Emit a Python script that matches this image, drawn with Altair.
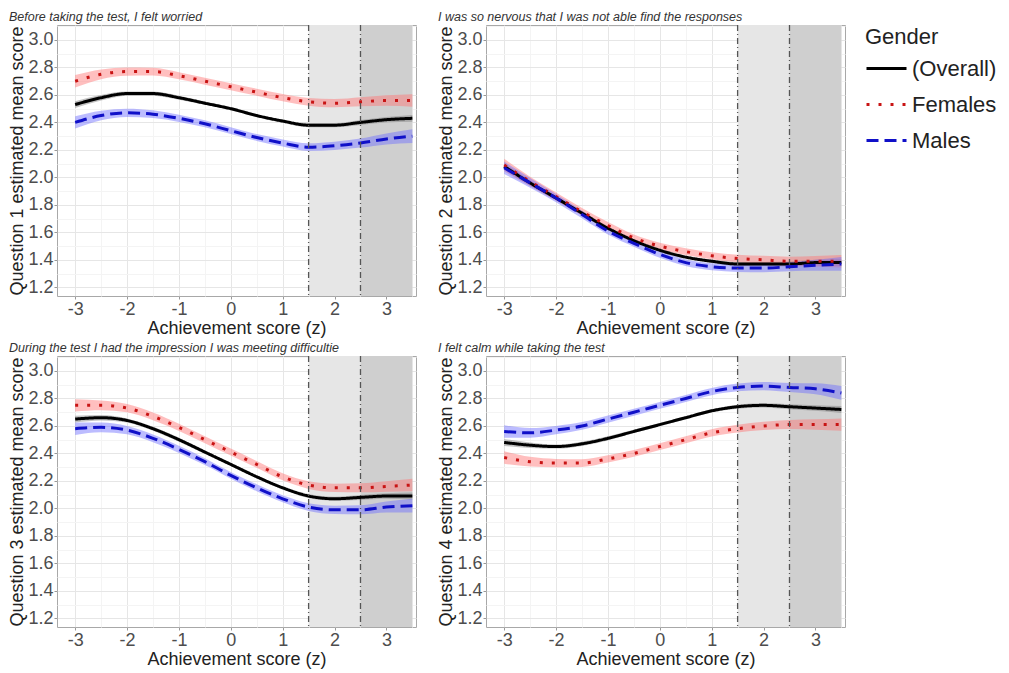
import altair as alt
import pandas as pd

# ---------------- data ----------------
X = [-3.0, -2.5, -2.0, -1.5, -1.0, -0.5, 0.0, 0.5, 1.0, 1.5, 2.0, 2.5, 3.0, 3.5]
GENDERS = ["(Overall)", "Females", "Males"]

PANEL_TITLES = [
    "Before taking the test, I felt worried",
    "I was so nervous that I was not able find the responses",
    "During the test I had the impression I was meeting difficultie",
    "I felt calm while taking the test",
]
Y_TITLES = [
    "Question 1 estimated mean score",
    "Question 2 estimated mean score",
    "Question 3 estimated mean score",
    "Question 4 estimated mean score",
]

# Question 1
Q1_OVERALL = [2.53, 2.58, 2.61, 2.61, 2.58, 2.54, 2.50, 2.45, 2.41, 2.38, 2.38, 2.40, 2.42, 2.43]
Q1_FEMALES = [2.70, 2.75, 2.77, 2.77, 2.74, 2.70, 2.66, 2.62, 2.58, 2.55, 2.54, 2.55, 2.56, 2.56]
Q1_MALES = [2.40, 2.45, 2.47, 2.46, 2.43, 2.39, 2.34, 2.29, 2.25, 2.22, 2.23, 2.25, 2.28, 2.30]
# Question 2
Q2_OVERALL = [2.08, 1.96, 1.85, 1.74, 1.63, 1.54, 1.47, 1.42, 1.39, 1.37, 1.37, 1.37, 1.38, 1.38]
Q2_FEMALES = [2.09, 1.97, 1.86, 1.75, 1.65, 1.56, 1.50, 1.46, 1.43, 1.41, 1.40, 1.39, 1.39, 1.39]
Q2_MALES = [2.07, 1.96, 1.85, 1.73, 1.61, 1.52, 1.44, 1.38, 1.35, 1.34, 1.34, 1.35, 1.36, 1.37]
# Question 3
Q3_OVERALL = [2.65, 2.66, 2.64, 2.58, 2.50, 2.41, 2.32, 2.23, 2.15, 2.09, 2.07, 2.08, 2.09, 2.09]
Q3_FEMALES = [2.75, 2.75, 2.73, 2.67, 2.59, 2.50, 2.41, 2.32, 2.23, 2.17, 2.15, 2.15, 2.16, 2.17]
Q3_MALES = [2.58, 2.59, 2.57, 2.51, 2.43, 2.34, 2.24, 2.15, 2.07, 2.01, 1.99, 1.99, 2.01, 2.02]
# Question 4
Q4_OVERALL = [2.48, 2.46, 2.45, 2.47, 2.51, 2.56, 2.61, 2.66, 2.71, 2.74, 2.75, 2.74, 2.73, 2.72]
Q4_FEMALES = [2.37, 2.34, 2.33, 2.33, 2.36, 2.40, 2.45, 2.50, 2.55, 2.58, 2.60, 2.61, 2.61, 2.61]
Q4_MALES = [2.56, 2.55, 2.57, 2.60, 2.65, 2.70, 2.75, 2.80, 2.85, 2.88, 2.89, 2.88, 2.87, 2.84]

# confidence band half-widths
HW_OVERALL = [0.025, 0.02, 0.015, 0.015, 0.015, 0.012, 0.012, 0.012, 0.012, 0.015, 0.015, 0.018, 0.02, 0.025]
HW_FEMALES = [0.045, 0.035, 0.03, 0.028, 0.026, 0.025, 0.025, 0.025, 0.026, 0.028, 0.03, 0.033, 0.038, 0.045]
HW_MALES = [0.045, 0.035, 0.03, 0.028, 0.026, 0.025, 0.025, 0.025, 0.026, 0.028, 0.03, 0.033, 0.04, 0.05]

SERIES = [
    (Q1_OVERALL, Q1_FEMALES, Q1_MALES),
    (Q2_OVERALL, Q2_FEMALES, Q2_MALES),
    (Q3_OVERALL, Q3_FEMALES, Q3_MALES),
    (Q4_OVERALL, Q4_FEMALES, Q4_MALES),
]
HALF_WIDTHS = [HW_OVERALL, HW_FEMALES, HW_MALES]

REGION_START = [1.5, 2.5]
REGION_END = [2.5, 3.5]
REGION_NAME = ["high", "top"]
CUTS = [1.5, 2.5]

X_MAJOR = [-3, -2, -1, 0, 1, 2, 3]
X_MINOR = [-2.5, -1.5, -0.5, 0.5, 1.5, 2.5, 3.5]
Y_MAJOR = [1.2, 1.4, 1.6, 1.8, 2.0, 2.2, 2.4, 2.6, 2.8, 3.0]
Y_MINOR = [1.3, 1.5, 1.7, 1.9, 2.1, 2.3, 2.5, 2.7, 2.9, 3.1]

# ---------------- styling ----------------
W, H = 359, 271
FONT = "Liberation Sans"
LINE_COLORS = ["#000000", "#c81414", "#1010c8"]
BAND_COLORS = ["#7a7a7a", "#ff7070", "#6b6bff"]
DASHES = [[1, 0], [3, 9], [12, 6]]

regions = pd.DataFrame({"start": REGION_START, "end": REGION_END, "zone": REGION_NAME})
cuts = pd.DataFrame({"x": CUTS})

major_x_test = "abs(datum.value - round(datum.value)) < 0.01"
major_y_test = "round(datum.value * 10) % 2 == 0"


def panel(i, show_legend=False):
    rows = []
    for g, vals, hw in zip(GENDERS, SERIES[i], HALF_WIDTHS):
        for xv, yv, h in zip(X, vals, hw):
            rows.append({"gender": g, "x": xv, "y": yv, "lo": yv - h, "hi": yv + h})
    df = pd.DataFrame(rows)

    xscale = alt.Scale(domain=[-3.35, 3.57], nice=False, zero=False)
    yscale = alt.Scale(domain=[1.137, 3.109], nice=False, zero=False)
    xaxis = alt.Axis(
        title="Achievement score (z)",
        values=sorted(X_MAJOR + X_MINOR),
        labelExpr=f"({major_x_test}) ? '' + datum.value : ''",
        gridColor={"condition": {"test": major_x_test, "value": "#e6e6e6"}, "value": "#f4f4f4"},
        tickColor={"condition": {"test": major_x_test, "value": "#999999"}, "value": "transparent"},
    )
    yaxis = alt.Axis(
        title=Y_TITLES[i],
        values=sorted(Y_MAJOR + Y_MINOR),
        labelExpr=f"({major_y_test}) ? format(datum.value, '.1f') : ''",
        gridColor={"condition": {"test": major_y_test, "value": "#e6e6e6"}, "value": "#f4f4f4"},
        tickColor={"condition": {"test": major_y_test, "value": "#999999"}, "value": "transparent"},
    )
    legend = (alt.Legend(title="Gender", orient="none", legendX=W + 20, legendY=2)
              if show_legend else None)

    shade = alt.Chart(regions).mark_rect().encode(
        x=alt.X("start:Q", scale=xscale, axis=xaxis),
        x2="end:Q",
        y=alt.value(0),
        y2=alt.value(H),
        color=alt.Color("zone:N", scale=alt.Scale(domain=REGION_NAME, range=["#e6e6e6", "#cfcfcf"]), legend=None),
    )
    band = alt.Chart(df).mark_area(opacity=0.45, interpolate="monotone").encode(
        x=alt.X("x:Q", scale=xscale, axis=xaxis),
        y=alt.Y("lo:Q", scale=yscale, axis=yaxis),
        y2="hi:Q",
        fill=alt.Fill("gender:N", scale=alt.Scale(domain=GENDERS, range=BAND_COLORS), legend=None),
        detail="gender:N",
    )
    line = alt.Chart(df).mark_line(strokeWidth=3, interpolate="monotone").encode(
        x=alt.X("x:Q", scale=xscale, axis=xaxis),
        y=alt.Y("y:Q", scale=yscale, axis=yaxis),
        stroke=alt.Stroke("gender:N", scale=alt.Scale(domain=GENDERS, range=LINE_COLORS), legend=legend),
        strokeDash=alt.StrokeDash("gender:N", scale=alt.Scale(domain=GENDERS, range=DASHES), legend=legend),
    )
    rules = alt.Chart(cuts).mark_rule(color="#555555", strokeWidth=1.3, strokeDash=[6, 3, 1, 3]).encode(
        x=alt.X("x:Q", scale=xscale, axis=xaxis),
    )
    return alt.layer(shade, band, line, rules).properties(
        width=W, height=H,
        title=alt.TitleParams(PANEL_TITLES[i], anchor="start", fontSize=12.5, fontStyle="italic",
                              fontWeight="normal", color="#333333", offset=1, font=FONT),
    )


row1 = alt.hconcat(panel(0), panel(1, show_legend=True), spacing=18).resolve_legend(
    stroke="independent", strokeDash="independent")
row2 = alt.hconcat(panel(2), panel(3), spacing=18).resolve_legend(
    stroke="independent", strokeDash="independent")

chart = alt.vconcat(row1, row2, spacing=3).resolve_legend(
    stroke="independent", strokeDash="independent"
).properties(
    padding={"left": 0, "top": 2, "right": 0, "bottom": 0},
).configure_view(
    stroke="#a8a8a8", strokeWidth=1,
).configure_axis(
    labelFont=FONT, titleFont=FONT, labelFontSize=18, titleFontSize=18,
    labelColor="#4d4d4d", titleColor="#222222", titleFontWeight="normal",
    domain=False, tickSize=3, labelPadding=1, titlePadding=1,
).configure_legend(
    titleFont=FONT, labelFont=FONT, titleFontSize=22, labelFontSize=22,
    titleFontWeight="normal", titleColor="#222222", labelColor="#222222",
    symbolType="stroke", symbolSize=1600, symbolStrokeWidth=3,
    clipHeight=31, rowPadding=5, titlePadding=4,
)

chart.save("out.html", embed_options={"renderer": "svg", "actions": False})
